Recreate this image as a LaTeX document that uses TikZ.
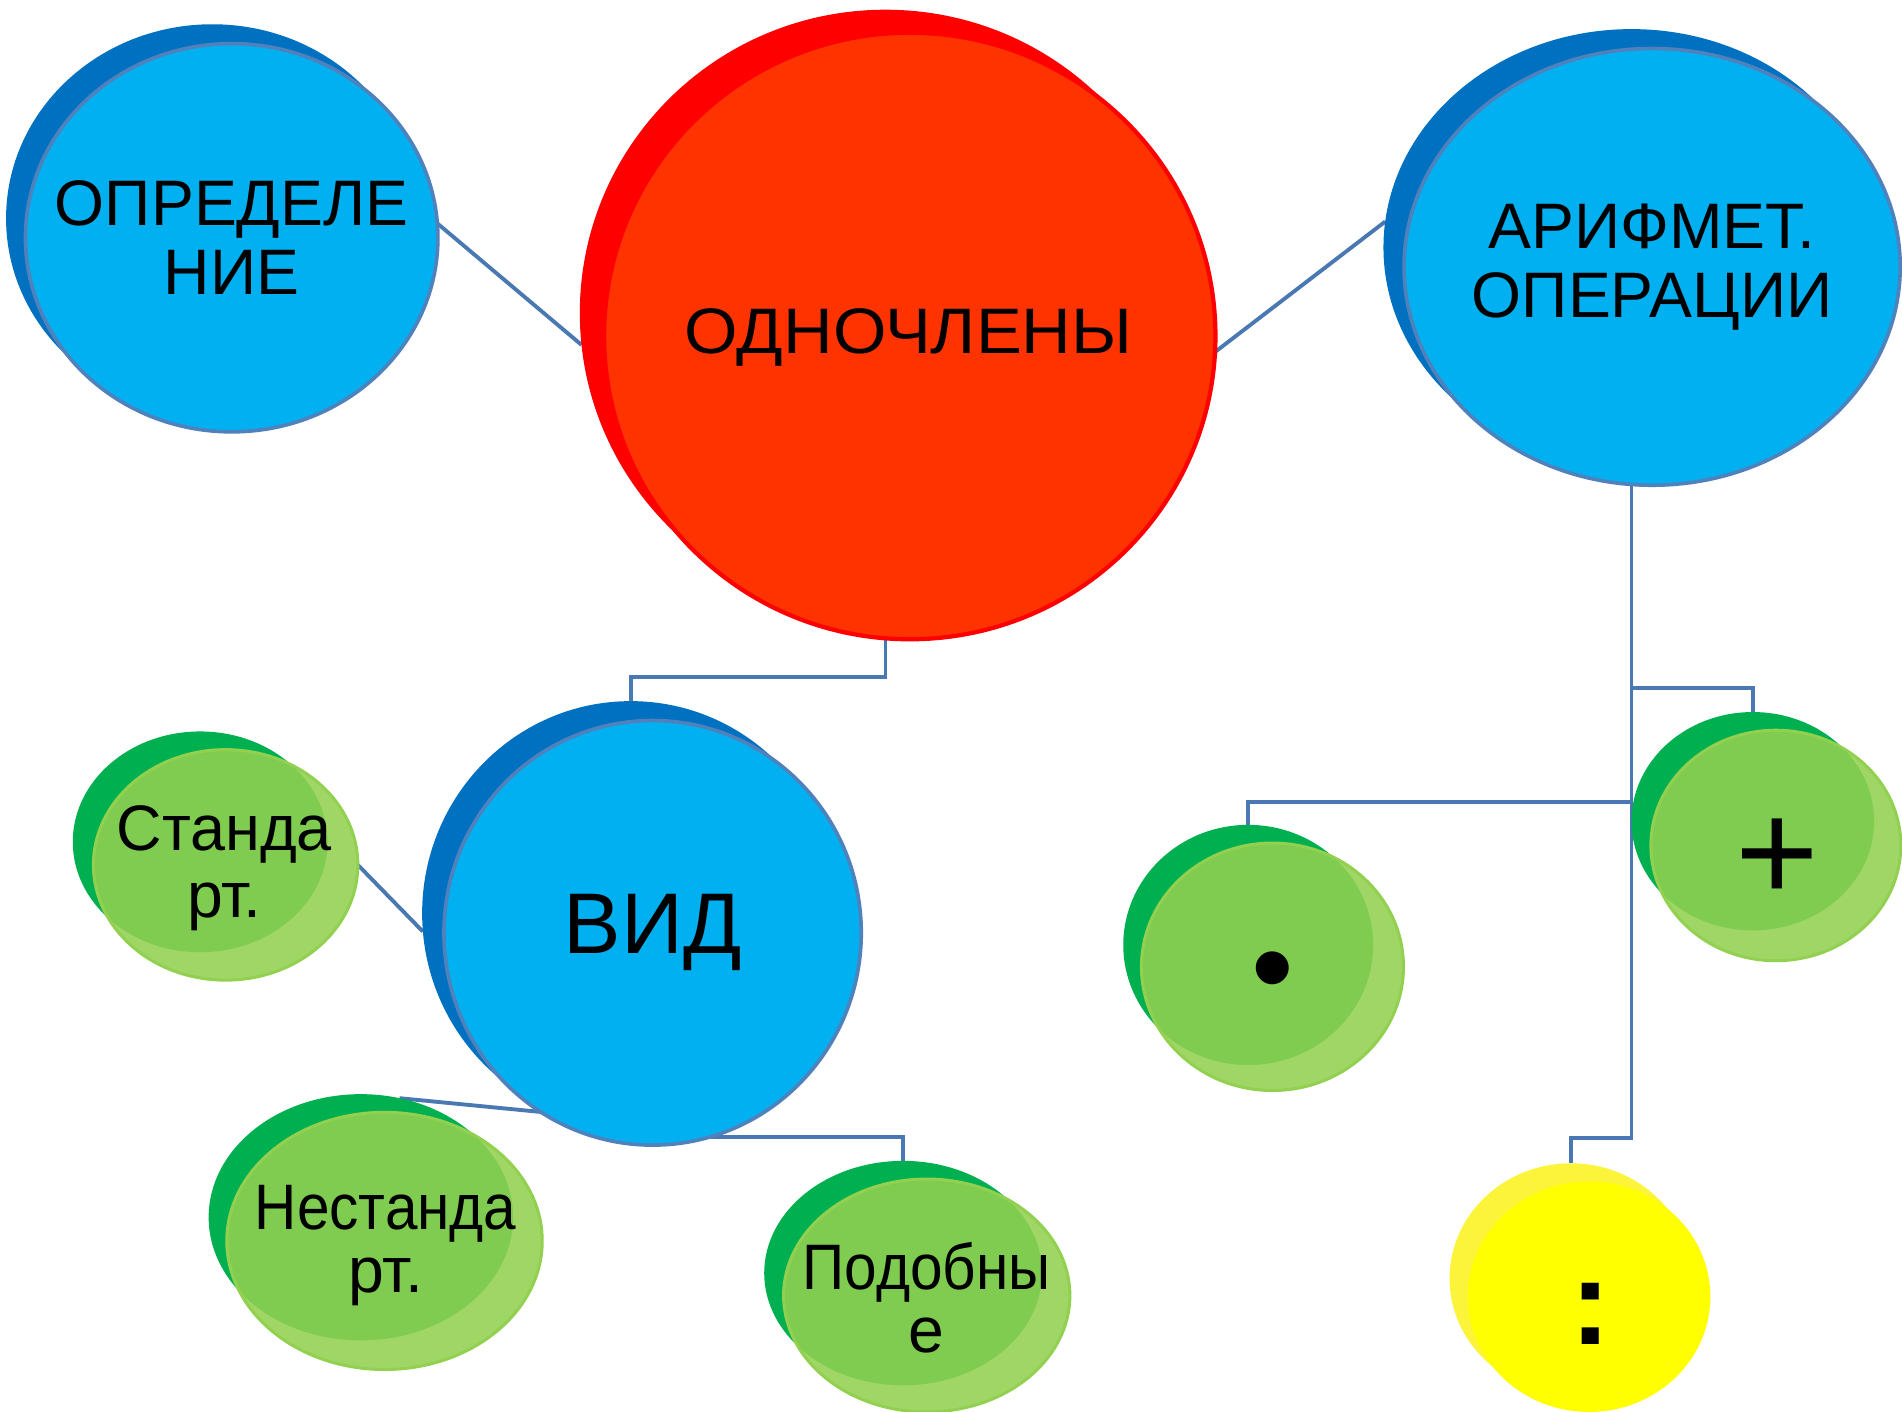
\documentclass[tikz,border=0pt]{standalone}
\usepackage{fontspec}
\usepackage{graphicx}
\setmainfont{Liberation Sans}
\usetikzlibrary{shapes.geometric,backgrounds}
\definecolor{bback}{HTML}{0070C0}
\definecolor{bfront}{HTML}{00B0F0}
\definecolor{bline}{HTML}{4F81BD}
\definecolor{rback}{HTML}{FF0000}
\definecolor{rfront}{HTML}{FF3300}
\definecolor{gback}{HTML}{00B050}
\definecolor{gfront}{HTML}{92D050}
\definecolor{yback}{HTML}{FCF43A}
\definecolor{yfront}{HTML}{FFFF00}
\definecolor{cline}{HTML}{4A78B2}
\begin{document}
\begin{tikzpicture}[x=1pt,y=-1pt,
  bub/.style={ellipse, inner sep=0pt, outer sep=0pt},
  blueback/.style={bub, fill=bback},
  bluefront/.style={bub, fill=bfront, draw=bline, line width=3pt},
  redback/.style={bub, fill=rback},
  redfront/.style={bub, fill=rfront, draw=rback, line width=3.5pt},
  greenback/.style={bub, fill=gback},
  greenfront/.style={bub, fill=gfront, fill opacity=0.88, draw=gfront, line width=2.5pt},
  yellowback/.style={bub, fill=yback},
  yellowfront/.style={bub, fill=yfront},
  txt/.style={inner sep=0pt, align=center, font=\fontsize{53}{57}\selectfont},
  gtxt/.style={txt, font=\fontsize{53}{52}\selectfont},
  conn/.style={draw=cline, line width=3.2pt}]
\useasboundingbox (0,0) rectangle (1568,1164);

% ОПРЕДЕЛЕНИЕ
\node[blueback, minimum width=340pt, minimum height=320pt] (oprb) at (175,180) {};
\node[bluefront, minimum width=340pt, minimum height=320pt] (opr) at (191,196) {};
\node[txt] (oprt) at (opr) {ОПРЕДЕЛЕ\\НИЕ};

% ОДНОЧЛЕНЫ
\node[redback, minimum width=504pt, minimum height=500pt] (odnb) at (730,258) {};
\node[redfront, minimum width=504pt, minimum height=500pt] (odn) at (750,277) {};
\node[txt] (odnt) at (749,278) {\scalebox{1.07}[1]{ОДНОЧЛЕНЫ}};

% АРИФМЕТ. ОПЕРАЦИИ
\node[blueback, minimum width=409pt, minimum height=360pt] (arb) at (1345,204) {};
\node[bluefront, minimum width=409pt, minimum height=360pt] (ar) at (1362,220) {};
\node[txt] (art) at (ar) {АРИФМЕТ.\\ОПЕРАЦИИ};

% ВИД
\node[blueback, minimum width=344pt, minimum height=350pt] (vidb) at (520,753) {};
\node[bluefront, minimum width=344pt, minimum height=350pt] (vid) at (538,769) {};
\node[txt, font=\fontsize{71}{71}\selectfont] (vidt) at (vid) {ВИД};

% Стандарт.
\node[greenback, minimum width=210pt, minimum height=182pt] (stb) at (165,694) {};
\node[greenfront, minimum width=218pt, minimum height=190pt] (st) at (186,713) {};
\node[gtxt, font=\fontsize{53}{55}\selectfont] (stt) at (185,716) {\scalebox{0.98}[1]{Станда}\\рт.};

% Нестандарт.
\node[greenback, minimum width=251pt, minimum height=203pt] (nsb) at (297.5,1003.5) {};
\node[greenfront, minimum width=260pt, minimum height=212pt] (ns) at (317,1023) {};
\node[gtxt] (nst) at (318,1027) {\scalebox{0.91}[1]{Нестанда}\\рт.};

% Подобные
\node[greenback, minimum width=229pt, minimum height=185pt] (pdb) at (744.5,1049.5) {};
\node[greenfront, minimum width=236pt, minimum height=192pt] (pd) at (764,1068) {};
\node[gtxt] (pdt) at (764,1070) {\scalebox{0.91}[1]{Подобны}\\е};

% •
\node[greenback, minimum width=206pt, minimum height=198pt] (dotb) at (1029,779) {};
\node[greenfront, minimum width=216pt, minimum height=204pt] (dot) at (1049,797) {};
\node[txt, font=\fontsize{100}{100}\selectfont] (dott) at (1049,808) {•};

% +
\node[greenback, minimum width=200pt, minimum height=180pt] (plb) at (1445,677) {};
\node[greenfront, minimum width=206pt, minimum height=190pt] (pl) at (1464,697) {};
\node[txt, font=\fontsize{118}{118}\selectfont] (plt) at (1465,709) {+};

% :
\node[yellowback, minimum width=200pt, minimum height=190pt] (colb) at (1295,1054) {};
\node[yellowfront, minimum width=200pt, minimum height=190pt] (col) at (1310,1069) {};
\node[txt, font=\fontsize{100}{100}\selectfont\bfseries] (colt) at (1311,1083) {:};

% connectors
\coordinate (y558) at (0,558);
\coordinate (y938) at (0,938);
\coordinate (y567) at (0,567);
\coordinate (y661) at (0,661);
\coordinate (y937) at (0,937);
\begin{scope}[on background layer]
\draw[conn] (opr.4) -- (odnb.186);
\draw[conn] (odn.-3) -- (arb.174);
\draw[conn] (odnb.south) -- (odnb.south |- y558) -| (vidb.north);
\draw[conn] (arb.south) -- (arb.south |- y938) -| (colb.north);
\draw[conn] (arb.south |- y567) -| (plb.north);
\draw[conn] (arb.south |- y661) -| (dotb.north);
\draw[conn] (st.east) -- (vidb.185);
\draw[conn] (vid.238) -- (nsb.72);
\draw[conn] (vid.center |- y937) -| (pdb.north);
\end{scope}
\end{tikzpicture}
\end{document}
